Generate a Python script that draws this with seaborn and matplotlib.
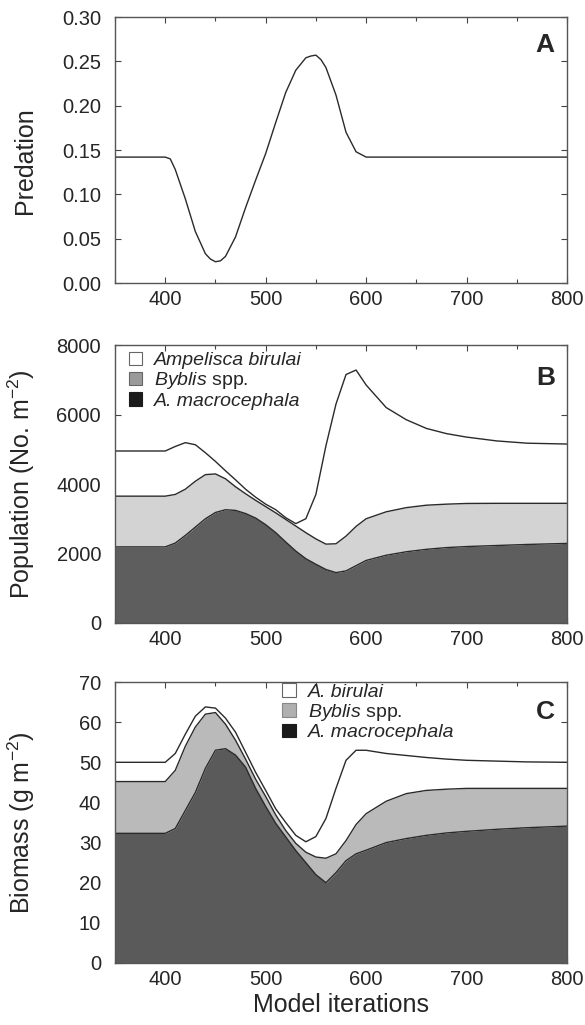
import matplotlib
matplotlib.use('Agg')
import matplotlib.pyplot as plt
import seaborn as sns
from matplotlib.patches import Patch

sns.set_style('ticks')
plt.rcParams['font.family'] = ['Liberation Sans', 'DejaVu Sans']
plt.rcParams['mathtext.fontset'] = 'custom'
plt.rcParams['mathtext.rm'] = 'Liberation Sans'
plt.rcParams['mathtext.it'] = 'Liberation Sans:italic'

# panel A - predation
iter_a = [350, 400, 405, 410, 420, 430, 440, 445, 450, 455, 460, 470, 480, 490, 500,
          510, 520, 530, 540, 545, 550, 555, 560, 570, 580, 590, 600, 800]
predation = [0.142, 0.142, 0.140, 0.128, 0.095, 0.058, 0.033, 0.027, 0.024, 0.025,
             0.030, 0.052, 0.085, 0.116, 0.146, 0.181, 0.215, 0.240, 0.254, 0.256,
             0.257, 0.252, 0.243, 0.212, 0.170, 0.148, 0.142, 0.142]

# panels B and C - stacked tops (macrocephala, + Byblis, + birulai = total)
iters = [350, 400, 410, 420, 430, 440, 450, 460, 470, 480, 490, 500, 510, 520, 530,
         540, 550, 560, 570, 580, 590, 600, 620, 640, 660, 680, 700, 730, 760, 800]

pop_macro = [2190, 2190, 2300, 2520, 2760, 3000, 3180, 3260, 3240, 3150, 3020, 2830,
             2600, 2330, 2070, 1850, 1690, 1540, 1450, 1500, 1650, 1800, 1950, 2050,
             2120, 2170, 2200, 2230, 2260, 2290]
pop_byblis = [3650, 3650, 3700, 3850, 4080, 4270, 4290, 4150, 3920, 3720, 3530, 3350,
              3170, 2980, 2790, 2600, 2420, 2270, 2280, 2500, 2780, 3000, 3200, 3320,
              3390, 3420, 3440, 3444, 3444, 3444]
pop_total = [4950, 4950, 5080, 5190, 5130, 4900, 4650, 4380, 4120, 3850, 3620, 3420,
             3260, 3030, 2860, 3000, 3700, 5100, 6300, 7150, 7280, 6850, 6200, 5850,
             5600, 5450, 5350, 5240, 5175, 5150]

bio_macro = [32.3, 32.3, 33.5, 38, 42.5, 48.5, 53, 53.4, 51.8, 48.8, 43.5, 39, 34.8,
             31.4, 28, 25, 22, 20, 22.5, 25.5, 27.2, 28.1, 30, 31, 31.8, 32.4, 32.8,
             33.3, 33.7, 34.1]
bio_byblis = [45.2, 45.2, 48, 54, 58.8, 62, 62.4, 59.5, 55.5, 50.8, 45.8, 41.5, 36.9,
              33, 29.8, 27.6, 26.4, 26.1, 27.2, 30.5, 34.5, 37.2, 40.3, 42.2, 43, 43.3,
              43.5, 43.5, 43.5, 43.5]
bio_total = [50, 50, 52.2, 57, 61.5, 63.8, 63.5, 61, 57.5, 52.5, 47.5, 43, 38.4, 35,
             31.8, 30.2, 31.5, 36, 43.5, 50.5, 53, 53, 52.2, 51.7, 51.2, 50.8, 50.5,
             50.3, 50.1, 50]

labels_b = ['Ampelisca birulai', r'$\mathit{Byblis}$ spp.', 'A. macrocephala']
labels_c = ['A. birulai', r'$\mathit{Byblis}$ spp.', 'A. macrocephala']

line_col = '#2a2a2a'
tick_fs = 14.5
label_fs = 18


def style(ax):
    ax.set_xlim(350, 800)
    ax.set_xticks(range(400, 801, 100))
    ax.set_xticks(range(350, 801, 50), minor=True)
    ax.tick_params(which='both', direction='in', top=True, right=True,
                   length=4, width=0.8, color='#444', labelsize=tick_fs)
    ax.tick_params(axis='x', which='minor', length=3)
    ax.tick_params(axis='x', pad=5)
    ax.tick_params(axis='y', pad=10)
    for s in ax.spines.values():
        s.set_color('#555')
        s.set_linewidth(1)
    ax.set_xlabel('')
    ax.yaxis.set_label_coords(-0.172, 0.5)


def species_legend(ax, handles, labels, anchor):
    leg = ax.legend(handles, labels, loc='upper left', bbox_to_anchor=anchor,
                    frameon=False, fontsize=14, handlelength=0.7, handleheight=0.7,
                    handletextpad=0.6, labelspacing=0.05, borderaxespad=0.3)
    for i in (0, 2):
        leg.get_texts()[i].set_fontstyle('italic')


fig = plt.figure(figsize=(5.85, 10.25), dpi=100)

# A
axA = fig.add_axes([0.1966, 0.7239, 0.7726, 0.2595])
sns.lineplot(x=iter_a, y=predation, ax=axA, color=line_col, lw=1)
axA.set_ylim(0, 0.30)
axA.set_yticks([0, 0.05, 0.10, 0.15, 0.20, 0.25, 0.30])
axA.set_yticklabels(['0.00', '0.05', '0.10', '0.15', '0.20', '0.25', '0.30'])
style(axA)
axA.set_ylabel('Predation', fontsize=label_fs)
axA.yaxis.set_label_coords(-0.172, 0.46)
axA.text(0.95, 0.895, 'A', transform=axA.transAxes, ha='center', va='center',
         fontsize=19, fontweight='bold')

# B
axB = fig.add_axes([0.1966, 0.3922, 0.7726, 0.2712])
axB.fill_between(iters, 0, pop_macro, color='#5e5e5e', lw=0)
axB.fill_between(iters, pop_macro, pop_byblis, color='#d3d3d3', lw=0)
axB.fill_between(iters, pop_byblis, pop_total, color='white', lw=0)
for s in (pop_macro, pop_byblis, pop_total):
    sns.lineplot(x=iters, y=s, ax=axB, color=line_col, lw=1)
axB.set_ylim(0, 8000)
axB.set_yticks(range(0, 8001, 2000))
style(axB)
axB.set_ylabel('Population (No. m$^{-2}$)', fontsize=label_fs)
axB.text(0.953, 0.88, 'B', transform=axB.transAxes, ha='center', va='center',
         fontsize=19, fontweight='bold')
hB = [Patch(facecolor='white', edgecolor='#666', lw=0.8),
      Patch(facecolor='#9a9a9a', edgecolor='#666', lw=0.8),
      Patch(facecolor='#1c1c1c', edgecolor='#1c1c1c', lw=0.8)]
species_legend(axB, hB, labels_b, (0.0, 1.025))

# C
axC = fig.add_axes([0.1966, 0.0605, 0.7726, 0.2741])
axC.fill_between(iters, 0, bio_macro, color='#5a5a5a', lw=0)
axC.fill_between(iters, bio_macro, bio_byblis, color='#bababa', lw=0)
axC.fill_between(iters, bio_byblis, bio_total, color='white', lw=0)
for s in (bio_macro, bio_byblis, bio_total):
    sns.lineplot(x=iters, y=s, ax=axC, color=line_col, lw=1)
axC.set_ylim(0, 70)
axC.set_yticks(range(0, 71, 10))
style(axC)
axC.set_ylabel('Biomass (g m$^{-2}$)', fontsize=label_fs)
axC.set_xlabel('Model iterations', fontsize=label_fs, labelpad=3)
axC.text(0.953, 0.893, 'C', transform=axC.transAxes, ha='center', va='center',
         fontsize=19, fontweight='bold')
hC = [Patch(facecolor='white', edgecolor='#666', lw=0.8),
      Patch(facecolor='#b0b0b0', edgecolor='#888', lw=0.8),
      Patch(facecolor='#1a1a1a', edgecolor='#1a1a1a', lw=0.8)]
species_legend(axC, hC, labels_c, (0.34, 1.045))

fig.savefig('out.png', dpi=100)
